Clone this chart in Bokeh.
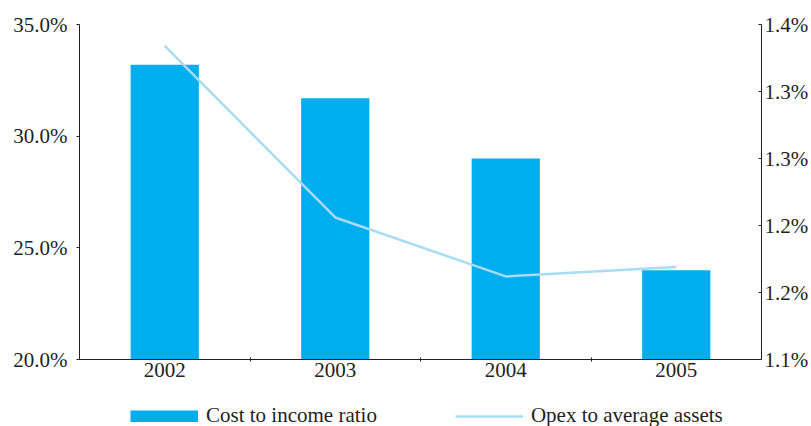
from bokeh.plotting import figure
from bokeh.layouts import column
from bokeh.models import (Range1d, LinearAxis, FixedTicker, Legend, LegendItem,
                          ColumnDataSource)
from bokeh.embed import file_html
from bokeh.resources import INLINE

years = ["2002", "2003", "2004", "2005"]
cost_to_income = [33.2, 31.7, 29.0, 24.0]          # % (left axis)
opex_to_assets = [1.334, 1.206, 1.162, 1.169]      # % (right axis)
left_ticks = [20.0, 25.0, 30.0, 35.0]
left_tick_labels = ["20.0%", "25.0%", "30.0%", "35.0%"]
right_ticks = [1.10, 1.15, 1.20, 1.25, 1.30, 1.35]
right_tick_labels = ["1.1%", "1.2%", "1.2%", "1.3%", "1.3%", "1.4%"]
series_names = ["Cost to income ratio", "Opex to average assets"]

FONT = "Liberation Serif"
FS = "21px"
TXT = "#231f20"
BAR = "#00aeef"
LINE = "#a8dcf4"

xs = [i + 0.5 for i in range(len(years))]
src = ColumnDataSource(dict(x=xs, cti=cost_to_income, opex=opex_to_assets))

p = figure(width=811, height=390, output_backend="svg", toolbar_location=None,
           x_range=Range1d(0, len(years)), y_range=Range1d(20, 35),
           min_border_left=79, min_border_right=47, min_border_top=24,
           min_border_bottom=31)
p.outline_line_color = None
p.xgrid.grid_line_color = None
p.ygrid.grid_line_color = None
p.extra_y_ranges = {"right": Range1d(1.10, 1.35)}

bars = p.vbar(x="x", top="cti", bottom=20, width=0.4, source=src,
              fill_color=BAR, line_color=None)
line = p.line(x="x", y="opex", source=src, y_range_name="right",
              line_color=LINE, line_width=2.5)

# x axis
xa = p.xaxis[0]
xa.ticker = FixedTicker(ticks=xs, minor_ticks=[1, 2, 3])
xa.major_label_overrides = {x: y for x, y in zip(xs, years)}
xa.major_tick_line_color = None
xa.major_tick_in = 0
xa.major_tick_out = 0
xa.minor_tick_in = 2
xa.minor_tick_out = 2
xa.minor_tick_line_color = TXT
xa.axis_line_color = TXT
xa.major_label_standoff = 1

# left axis
ya = p.yaxis[0]
ya.ticker = FixedTicker(ticks=left_ticks, minor_ticks=[])
ya.major_label_overrides = {t: l for t, l in zip(left_ticks, left_tick_labels)}
ya.major_tick_in = 0
ya.major_tick_out = 3
ya.major_label_standoff = 9
ya.axis_line_color = TXT
ya.major_tick_line_color = TXT

# right axis
ra = LinearAxis(y_range_name="right")
ra.ticker = FixedTicker(ticks=right_ticks, minor_ticks=[])
ra.major_label_overrides = {t: l for t, l in zip(right_ticks, right_tick_labels)}
ra.major_tick_in = 3
ra.major_tick_out = 0
ra.major_label_standoff = 3
ra.axis_line_color = TXT
ra.major_tick_line_color = TXT
p.add_layout(ra, "right")

for ax in (xa, ya, ra):
    ax.major_label_text_font = FONT
    ax.major_label_text_font_size = FS
    ax.major_label_text_color = TXT
    ax.axis_line_width = 1

# legend strip (separate figure below the chart)
lp = figure(width=811, height=36, output_backend="svg", toolbar_location=None,
            x_range=Range1d(0, 1), y_range=Range1d(0, 1),
            x_axis_location=None, y_axis_location=None,
            min_border_left=0, min_border_right=0, min_border_top=0,
            min_border_bottom=0)
lp.outline_line_color = None
lp.xgrid.grid_line_color = None
lp.ygrid.grid_line_color = None
key_bar = lp.line(x=[0], y=[0], line_color=BAR, line_width=12, line_cap="butt")
key_line = lp.line(x=[0], y=[0], line_color=LINE, line_width=2.5)

legend = Legend(items=[LegendItem(label=series_names[0], renderers=[key_bar]),
                       LegendItem(label=series_names[1], renderers=[key_line])],
                location=(51, -2), orientation="horizontal",
                glyph_width=68, glyph_height=12, label_standoff=8,
                padding=0, margin=0, spacing=78,
                border_line_color=None, background_fill_alpha=0,
                label_text_font=FONT, label_text_font_size=FS,
                label_text_color=TXT)
lp.add_layout(legend, "center")

open("out.html", "w").write(file_html(column(p, lp, spacing=0), INLINE))
